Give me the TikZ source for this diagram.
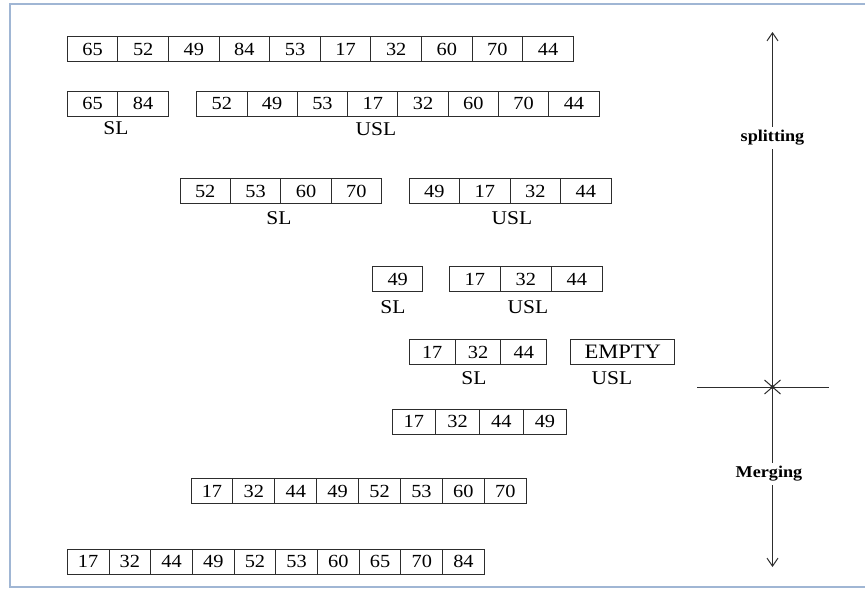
\documentclass[tikz,border=0pt]{standalone}
\usepackage{fontspec}
\setmainfont{Liberation Serif}[FakeStretch=1.1]
\usetikzlibrary{arrows.meta,calc}
\definecolor{frameblue}{RGB}{160,182,212}
\definecolor{celldark}{RGB}{45,45,45}

% one row of boxes: name, left x, centre y, cell width, values
\newcommand{\cellrow}[5]{%
  \foreach \v [count=\i] in {#5}
    \node[cell, minimum width=#4] (#1-\i) at ({#2+(\i-0.5)*#4}, #3) {\v};
}

\begin{document}
\begin{tikzpicture}[x=1pt, y=-1pt,
    cell/.style={draw=celldark, line width=1pt, inner sep=0pt, minimum height=25pt,
      font=\fontsize{18.5}{18.5}\selectfont},
    lbl/.style={inner sep=0pt, font=\fontsize{19.5}{19.5}\selectfont},
    dirlbl/.style={inner sep=3.5pt, font=\fontsize{16.5}{17}\selectfont\bfseries},
    tip/.style={-{Straight Barb[length=8pt, width=11pt]}}]
  \useasboundingbox (0,0) rectangle (865,590);
  \draw[frameblue, line width=1.5pt] (10,4) rectangle (885,587);

  % splitting
  \cellrow{ra}{67.3}{49}{50.6}{65,52,49,84,53,17,32,60,70,44}

  \cellrow{rb}{67.3}{103.5}{50.5}{65,84}
  \cellrow{rc}{196.7}{103.5}{50.3}{52,49,53,17,32,60,70,44}
  \node[lbl] (slb) at (116,128) {SL};
  \node[lbl] (uslc) at (376,129) {USL};

  \cellrow{rd}{180}{191}{50.4}{52,53,60,70}
  \cellrow{re}{409}{191}{50.5}{49,17,32,44}
  \node[lbl] (sld) at (279,218) {SL};
  \node[lbl] (usle) at (512,218) {USL};

  \cellrow{rf}{372.7}{279}{50}{49}
  \cellrow{rg}{449.3}{279}{51}{17,32,44}
  \node[lbl] (slf) at (393,307) {SL};
  \node[lbl] (uslg) at (528,307) {USL};

  \cellrow{rh}{409.3}{352}{45.8}{17,32,44}
  \node[cell, minimum width=104.3, font=\fontsize{20.5}{20.5}\selectfont] (ri) at (622.8,352) {EMPTY};
  \node[lbl] (slh) at (474,378) {SL};
  \node[lbl] (usli) at (612,378) {USL};

  % merging
  \cellrow{rj}{392}{421.7}{43.7}{17,32,44,49}
  \cellrow{rk}{191}{491}{41.9}{17,32,44,49,52,53,60,70}
  \cellrow{rl}{67.3}{561.7}{41.7}{17,32,44,49,52,53,60,65,70,84}

  % direction axis
  \coordinate (top) at (772.5,32);
  \coordinate (bot) at (772.5,567);
  \coordinate (mid) at (772.5,387);
  \coordinate (hl) at (697,387);
  \coordinate (hr) at (829,387);
  \node[dirlbl] (split) at (772.5,138) {splitting};
  \node[dirlbl] (merge) at (769,474) {Merging};

  \draw[celldark, line width=1pt, tip] (split) -- (top);
  \draw[celldark, line width=1pt] (split) -- (mid) -- (merge.north -| mid);
  \draw[celldark, line width=1pt, tip] (merge.south -| mid) -- (bot);
  \draw[celldark, line width=1pt] (hl) -- (hr);
  \draw[celldark, line width=1pt] ($(mid)+(-8,-7)$) -- ($(mid)+(8,7)$)
    ($(mid)+(-8,7)$) -- ($(mid)+(8,-7)$);
  \fill[celldark] (mid) circle (2pt);
\end{tikzpicture}
\end{document}
